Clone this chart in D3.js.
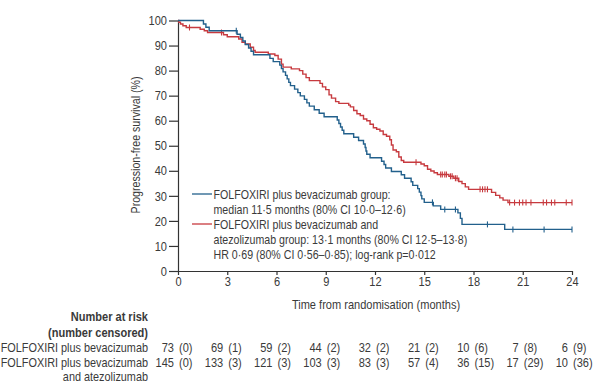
<!DOCTYPE html>
<html>
<head>
<meta charset="utf-8">
<script src="https://cdn.jsdelivr.net/npm/d3@7"></script>
<style>
  body { margin:0; background:#fff; }
  svg text { font-family:"Liberation Sans",Arial,sans-serif; fill:#3a3a3a; }
</style>
</head>
<body>
<svg id="chart"></svg>
<script>
// KM steps: time (months) and survival (%) after the drop
var blueTimes = [0,1.55,1.7,1.9,3.6,3.8,3.95,4.1,4.3,4.45,4.6,5.6,5.8,6.2,6.3,6.4,6.55,6.65,6.75,6.85,7.1,7.3,7.45,7.7,7.85,8.0,8.3,8.6,8.9,9.7,9.8,9.9,10.0,10.1,10.7,11.0,11.3,11.4,11.45,11.5,11.7,12.4,12.55,12.65,13.0,13.6,13.8,14.2,14.3,14.6,14.7,14.8,14.85,15.0,15.55,16.0,17.05,17.2,17.3,19.9];
var blueSurv  = [100,98.6,97.3,95.9,94.5,93.2,91.8,90.4,89.0,87.7,86.3,84.9,83.6,82.2,80.8,79.5,78.1,76.7,75.3,74.0,72.6,71.2,69.9,68.5,67.1,65.8,64.4,63.0,61.6,60.3,58.9,57.5,56.2,54.8,53.4,52.1,50.7,49.3,47.9,46.6,45.2,43.8,42.5,41.1,39.7,38.4,37.0,35.6,34.2,32.9,31.5,30.1,28.8,27.4,26.0,24.6,23.2,21.0,18.6,16.6];
var blueCensor = [3.55,15.5,16.25,16.9,18.85,20.4,22.3,24];

var redTimes = [0,0.05,0.15,0.3,0.5,1.35,1.6,1.8,2.77,3.0,3.7,3.9,4.1,4.4,4.6,4.7,5.5,5.9,6.1,6.3,6.4,6.9,7.4,7.6,7.8,8.0,8.65,8.8,9.0,9.2,9.35,9.6,9.8,10.4,10.5,10.7,10.9,11.1,11.3,11.5,11.7,11.9,12.1,12.3,12.5,12.7,12.9,13.0,13.1,13.3,13.45,13.6,13.75,14.8,15.0,15.2,15.4,15.6,15.8,16.5,16.8,17.1,17.3,17.5,17.7,19.1,19.35,19.6,19.8,20.1];
var redSurv  = [100,99.3,98.6,97.9,97.2,96.5,95.9,95.2,94.3,93.5,92.6,91.3,90.6,89.3,88.0,87.3,86.6,86.0,84.6,82.6,81.4,80.7,80.0,78.6,77.2,76.0,74.9,73.5,72.4,70.3,69.0,67.6,66.9,66.2,65.5,64.1,62.8,62.1,60.7,60.0,58.6,57.2,56.6,55.9,54.5,53.8,52.4,50.3,48.3,47.6,45.5,44.1,43.4,42.7,42.0,40.6,39.9,39.2,38.5,37.8,37.0,35.7,34.9,33.6,32.6,31.4,30.2,29.2,28.3,27.3];
var redCensor = [0.7,2.65,14.5,16.0,16.1,16.25,16.35,16.6,16.7,16.9,17.0,18.4,18.55,18.7,18.85,20.2,20.5,20.8,21.0,21.2,21.5,22.25,22.45,22.75,22.95,23.65,24];

var xTicks = [0,3,6,9,12,15,18,21,24];
var yTicks = [0,10,20,30,40,50,60,70,80,90,100];

var riskLabels = ["FOLFOXIRI plus bevacizumab","FOLFOXIRI plus bevacizumab"];
var riskBlue = [73,69,59,44,32,21,10,7,6];
var censBlue = [0,1,2,2,2,2,6,8,9];
var riskRed = [145,133,121,103,83,57,36,17,10];
var censRed = [0,3,3,3,3,4,15,29,36];

var legendLines = [
  "FOLFOXIRI plus bevacizumab group:",
  "median 11·5 months (80% CI 10·0–12·6)",
  "FOLFOXIRI plus bevacizumab and",
  "atezolizumab group: 13·1 months (80% CI 12·5–13·8)",
  "HR 0·69 (80% CI 0·56–0·85); log-rank p=0·012"
];

var blueCol = "#22608c";
var redCol = "#c73a3f";
var sx = 0.85;   // squeeze text to look like the narrow journal font

var svg = d3.select("#chart")
            .attr("width",600)
            .attr("height",387);

// text helper: narrow text placed at (px,py)
var txt = function(parent,px,py,str,size,anchor,weight)
{
  return parent.append("text")
     .attr("transform","translate("+px+","+py+") scale("+sx+",1)")
     .attr("text-anchor",anchor || "start")
     .attr("font-size",size+"px")
     .attr("font-weight",weight || "normal")
     .text(str);
}

var x = d3.scaleLinear().domain([0,24]).range([178,572]);
var y = d3.scaleLinear().domain([0,100]).range([271,20.5]);

// axes
var yAxis = svg.append("g")
               .attr("transform","translate(178,0)")
               .call(d3.axisLeft(y).tickValues(yTicks).tickSize(9).tickPadding(2).tickSizeOuter(0));
yAxis.selectAll(".tick text").attr("x",-11/sx).attr("transform","scale("+sx+",1)");
var xAxis = svg.append("g")
               .attr("transform","translate(0,271)")
               .call(d3.axisBottom(x).tickValues(xTicks).tickSize(4).tickPadding(2).tickSizeOuter(0));
xAxis.selectAll(".tick text").attr("transform","scale("+sx+",1)");
svg.selectAll(".tick text").attr("font-size","13px").style("fill","#3a3a3a");
svg.selectAll(".domain, .tick line").attr("stroke","#333").attr("stroke-width",1.2);

svg.append("text")
   .attr("transform","translate(140,145) rotate(-90) scale("+sx+",1)")
   .attr("text-anchor","middle")
   .attr("font-size","12.5px")
   .text("Progression-free survival (%)");

txt(svg,376,309,"Time from randomisation (months)",13,"middle");

// curves
var makeSteps = function(times,surv,end)
{
  var pts = times.map(function(t,i){ return [t,surv[i]]; });
  pts.push([end,surv[surv.length-1]]);
  return pts;
}
var survAt = function(times,surv,t)
{
  var s = surv[0];
  for (var i=0;i<times.length;i++) { if (times[i] <= t) s = surv[i]; }
  return s;
}

var line = d3.line()
             .x(function(d){ return x(d[0]); })
             .y(function(d){ return y(d[1]); })
             .curve(d3.curveStepAfter);

var groups = [
  {times:redTimes, surv:redSurv, cens:redCensor, col:redCol},
  {times:blueTimes, surv:blueSurv, cens:blueCensor, col:blueCol}
];

groups.forEach(function(g){
  svg.append("path")
     .datum(makeSteps(g.times,g.surv,24))
     .attr("d",line)
     .attr("fill","none")
     .attr("stroke",g.col)
     .attr("stroke-width",1.4);

  svg.selectAll(null)
     .data(g.cens)
     .enter()
     .append("line")
     .attr("x1",function(d){ return x(d); })
     .attr("x2",function(d){ return x(d); })
     .attr("y1",function(d){ return y(survAt(g.times,g.surv,d))-3; })
     .attr("y2",function(d){ return y(survAt(g.times,g.surv,d))+3; })
     .attr("stroke",g.col)
     .attr("stroke-width",1.1);
});

// legend
var legend = svg.append("g").classed("legend",true);
legend.append("line").attr("x1",192).attr("x2",212).attr("y1",194).attr("y2",194)
      .attr("stroke",blueCol).attr("stroke-width",1.3);
legend.append("line").attr("x1",192).attr("x2",212).attr("y1",224).attr("y2",224)
      .attr("stroke",redCol).attr("stroke-width",1.3);
legendLines.forEach(function(d,i){
  txt(legend,213.5,198.5+i*15,d,12.5);
});

// number at risk
var risk = svg.append("g").classed("risk",true);
txt(risk,148,321,"Number at risk",13,"end","bold");
txt(risk,148,337,"(number censored)",13,"end","bold");
txt(risk,148,352,riskLabels[0],12.8,"end");
txt(risk,148,366.5,riskLabels[1],12.8,"end");
txt(risk,148,381,"and atezolizumab",12.8,"end");

var rows = [
  {n:riskBlue, c:censBlue, yy:352},
  {n:riskRed, c:censRed, yy:366.5}
];
rows.forEach(function(r){
  xTicks.forEach(function(d,i){
    txt(risk,x(d)-4,r.yy,r.n[i],13,"end");
    txt(risk,x(d)+1,r.yy,"(" + r.c[i] + ")",13,"start");
  });
});
</script>
</body>
</html>
